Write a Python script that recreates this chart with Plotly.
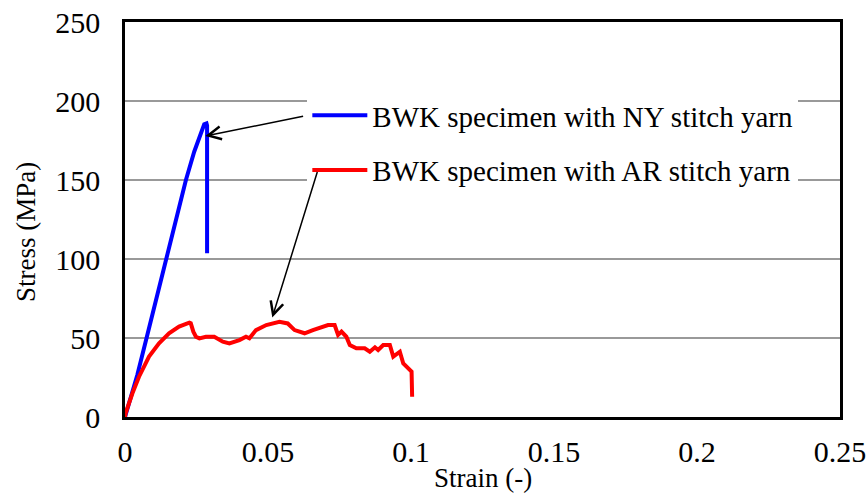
import plotly.graph_objects as go

# Data
ny_strain = [0.0, 0.0043, 0.0078, 0.0113, 0.0143, 0.0178, 0.0213, 0.0242, 0.0265, 0.0277, 0.0285, 0.0287, 0.0287]
ny_stress = [0.0, 26.6, 51.9, 77.2, 100.4, 125.8, 150.0, 167.9, 180.6, 185.2, 185.8, 184.5, 103.6]

ar_strain = [0.0, 0.0002, 0.0026, 0.0049, 0.0084, 0.0119, 0.0154, 0.0189, 0.0225, 0.0230, 0.0239, 0.0248,
             0.0260, 0.0283, 0.0312, 0.0342, 0.0365, 0.0400, 0.0423, 0.0435, 0.0458, 0.0494, 0.0540,
             0.0569, 0.0593, 0.0628, 0.0657, 0.0680, 0.0710, 0.0733, 0.0745, 0.0757, 0.0774, 0.0786,
             0.0809, 0.0838, 0.0856, 0.0874, 0.0885, 0.0903, 0.0926, 0.0938, 0.0961, 0.0973, 0.0991,
             0.1002, 0.1004]
ar_stress = [0.0, 2.3, 15.0, 25.5, 38.2, 46.6, 53.0, 57.2, 59.7, 59.3, 54.0, 50.8,
             49.8, 50.8, 50.8, 47.7, 46.6, 48.7, 50.8, 49.8, 55.0, 58.2, 60.3,
             59.2, 55.0, 53.0, 55.0, 56.5, 58.2, 58.2, 51.9, 54.0, 50.8, 45.6,
             43.5, 43.5, 41.3, 44.1, 42.4, 45.6, 45.6, 38.2, 41.3, 33.9, 30.8,
             28.7, 12.8]

x_ticks = [0, 0.05, 0.1, 0.15, 0.2, 0.25]
x_tick_labels = ["0", "0.05", "0.1", "0.15", "0.2", "0.25"]
y_ticks = [0, 50, 100, 150, 200, 250]
y_tick_labels = ["0", "50", "100", "150", "200", "250"]

series_names = ["BWK specimen with NY stitch yarn", "BWK specimen with AR stitch yarn"]
# arrow (tip, tail) in data coordinates
arrow_tips = [(0.0281, 177.8), (0.0515, 63.0)]
arrow_tails = [(0.0628, 190.5), (0.0674, 156.0)]

FONT = "Liberation Serif, Times New Roman, serif"
TICK_FS = 30
LEG_FS = 29
TITLE_FS = 27

fig = go.Figure()
fig.add_trace(go.Scatter(x=ny_strain, y=ny_stress, mode="lines", name=series_names[0],
                         line=dict(color="#0000ff", width=4), legendgroup="a"))
fig.add_trace(go.Scatter(x=ar_strain, y=ar_stress, mode="lines", name=series_names[1],
                         line=dict(color="#ff0000", width=4), legendgroup="b"))

for (tx, ty), (sx, sy) in zip(arrow_tips, arrow_tails):
    fig.add_annotation(x=tx, y=ty, ax=sx, ay=sy, xref="x", yref="y", axref="x", ayref="y",
                       text="", showarrow=True, arrowhead=5, arrowsize=1.7, arrowwidth=1.5,
                       arrowcolor="black", standoff=0)

fig.update_layout(
    width=868, height=493,
    margin=dict(l=125, r=28, t=22, b=76, autoexpand=False),
    paper_bgcolor="white", plot_bgcolor="white",
    font=dict(family=FONT, size=LEG_FS, color="black"),
    showlegend=True,
    legend=dict(x=0.255, y=0.828, xanchor="left", yanchor="top", bgcolor="white",
                font=dict(family=FONT, size=LEG_FS, color="black"),
                traceorder="grouped", tracegroupgap=14, itemwidth=55),
)
fig.update_xaxes(range=[0, 0.25], tickvals=x_ticks, ticktext=x_tick_labels,
                 showgrid=False, zeroline=False, showline=True, mirror=True, automargin=False,
                 linecolor="black", linewidth=2.5, ticks="", ticklabelstandoff=6,
                 tickfont=dict(family=FONT, size=TICK_FS))
fig.update_yaxes(range=[0, 250], tickvals=y_ticks, ticktext=y_tick_labels,
                 showgrid=True, gridcolor="#999999", gridwidth=1.5, zeroline=False, automargin=False,
                 showline=True, mirror=True, linecolor="black", linewidth=2.5,
                 ticks="", ticklabelstandoff=16, tickfont=dict(family=FONT, size=TICK_FS))

fig.add_annotation(text="Strain (-)", xref="paper", yref="paper", x=0.5, y=-0.195,
                   yanchor="bottom", xanchor="center", showarrow=False, borderpad=0,
                   font=dict(family=FONT, size=TITLE_FS))
fig.add_annotation(text="Stress (MPa)", xref="paper", yref="paper", x=-0.1385, y=0.468,
                   xanchor="center", yanchor="middle", textangle=-90, showarrow=False,
                   font=dict(family=FONT, size=TITLE_FS))

fig.write_html("out.html", config={"displayModeBar": False},
               post_script="document.body.style.margin='0';")
